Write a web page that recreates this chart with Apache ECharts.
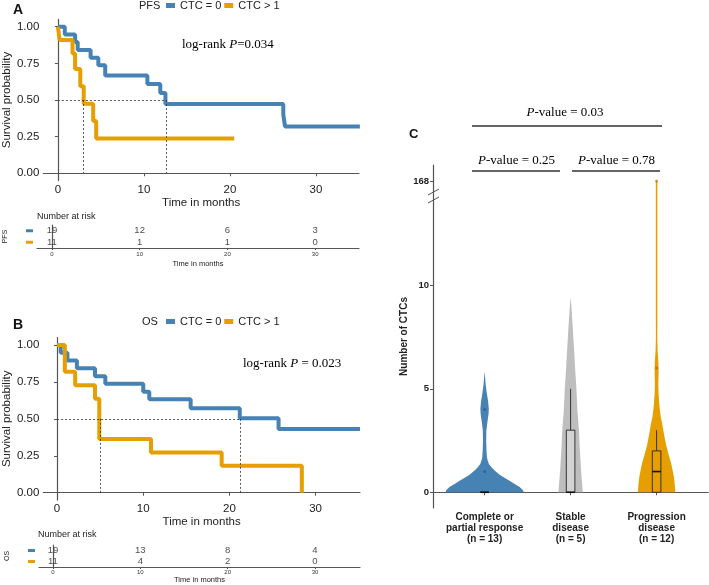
<!DOCTYPE html>
<html><head><meta charset="utf-8">
<script src="https://cdn.jsdelivr.net/npm/echarts@6/dist/echarts.min.js"></script>
<style>html,body{margin:0;padding:0;background:#fff}#c{width:709px;height:585px}</style>
</head><body><div id="c"></div>
<script>
// ================= DATA =================
const groupNames = ['CTC = 0', 'CTC > 1'];
const timeTicks = [0, 10, 20, 30];
const survTicks = [0, 0.25, 0.5, 0.75, 1];

// Panel A: PFS Kaplan-Meier
const pfsTime0 = [0, 0.8, 2.0, 2.3, 3.8, 4.7, 5.5, 10.4, 11.9, 12.5, 26.2, 26.4, 35.1];
const pfsSurv0 = [1, 0.947, 0.895, 0.842, 0.789, 0.737, 0.668, 0.609, 0.548, 0.473, 0.40, 0.32, 0.32];
const pfsTime1 = [0, 0.2, 1.7, 2.0, 2.6, 3.0, 4.1, 4.45, 20.5];
const pfsSurv1 = [1, 0.909, 0.818, 0.712, 0.593, 0.475, 0.356, 0.237, 0.237];
const pfsMedians = [12.6, 3.0];
const pfsRisk0 = [19, 12, 6, 3];
const pfsRisk1 = [11, 1, 1, 0];
const pfsP = '0.034';

// Panel B: OS Kaplan-Meier
const osTime0 = [0, 0.42, 1.2, 2.3, 4.4, 5.6, 10.0, 10.7, 15.5, 21.2, 25.7, 35.15];
const osSurv0 = [1, 0.947, 0.895, 0.842, 0.789, 0.737, 0.684, 0.632, 0.571, 0.504, 0.431, 0.431];
const osTime1 = [0, 0.9, 2.1, 4.4, 4.9, 10.9, 19.1, 28.4];
const osSurv1 = [1, 0.818, 0.727, 0.636, 0.364, 0.273, 0.182, 0];
const osMedians = [21.2, 5.0];
const osRisk0 = [19, 13, 8, 4];
const osRisk1 = [11, 4, 2, 0];
const osP = '0.023';

// Panel C: CTC counts by response
const ctcGroups = ['Complete or\npartial response\n(n = 13)', 'Stable\ndisease\n(n = 5)', 'Progression\ndisease\n(n = 12)'];
const ctcTicks = [0, 5, 10, 168];
// violin profiles: [value, relative density]
const violinCR = [[0,1.0],[0.1,0.985],[0.25,0.9],[0.4,0.77],[0.56,0.64],[0.7,0.51],[0.85,0.385],[1.05,0.256],[1.2,0.18],[1.37,0.11],[1.55,0.077],[1.7,0.06],[2.0,0.049],[2.5,0.041],[3.0,0.046],[3.4,0.072],[3.8,0.103],[4.05,0.108],[4.4,0.09],[4.8,0.056],[5.2,0.028],[5.5,0.015],[5.85,0]];
const violinSD = [[0,0.313],[1,0.27],[2,0.238],[3,0.213],[4,0.174],[5,0.149],[6,0.115],[6.7,0.095],[7.5,0.069],[8.3,0.044],[9.0,0.02],[9.4,0]];
const violinPD = [[0,0.48],[0.4,0.465],[0.72,0.445],[1.06,0.41],[1.37,0.377],[1.7,0.326],[2.0,0.282],[2.33,0.238],[2.66,0.205],[3.0,0.172],[3.3,0.146],[3.6,0.11],[3.95,0.085],[4.27,0.069],[4.75,0.051],[5.23,0.044],[5.7,0.051],[6.0,0.051],[6.35,0.044],[6.85,0.026],[7.5,0.018],[8.1,0.02],[12,0.02],[168,0.02]];
// box stats: [min, q1, median, q3, max]
const boxCR = [0, 0, 0, 0, 0];
const boxSD = [0, 0, 0, 3, 5];
const boxPD = [0, 0, 1, 2, 3];
const outCR = [1, 4];
const outSD = [];
const outPD = [6, 168];
const pValues = ['0.03', '0.25', '0.78'];

// ================= STYLE =================
const BLUE = '#4682B4', ORANGE = '#E69F00', GRAY = '#BEBEBE';
const SANS = "'Liberation Sans', Arial, sans-serif";
const SERIF = "'Liberation Serif', 'Times New Roman', serif";
const AXC = '#555', TXT = '#222';
const VW = 0.4535, BOXW = 0.05;
const BREAK_LOW = 12, BREAK_TOP = 15.04, BREAK_VAL = 168;
function yMap(v) { return v <= BREAK_LOW ? v : BREAK_LOW + (v - BREAK_LOW) * (BREAK_TOP - BREAK_LOW) / (BREAK_VAL - BREAK_LOW); }

const chart = echarts.init(document.getElementById('c'));
const axLine = {show: true, lineStyle: {color: AXC, width: 1.2}};

function kmX(gi, min, max) {
  return {gridIndex: gi, type: 'value', min, max, axisLine: axLine,
    axisTick: {show: true, customValues: timeTicks, length: 3, lineStyle: {color: AXC}},
    axisLabel: {customValues: timeTicks, fontSize: 11.5, color: TXT, fontFamily: SANS, margin: 3},
    splitLine: {show: false}, name: 'Time in months', nameLocation: 'middle', nameGap: 14,
    nameTextStyle: {fontSize: 11.5, color: TXT, fontFamily: SANS}};
}
function kmY(gi) {
  return {gridIndex: gi, type: 'value', min: -0.05, max: 1.05, axisLine: axLine,
    axisTick: {show: true, customValues: survTicks, length: 3, lineStyle: {color: AXC}},
    axisLabel: {customValues: survTicks, formatter: v => v.toFixed(2), fontSize: 11.5, color: TXT, fontFamily: SANS, margin: 4},
    splitLine: {show: false}, name: 'Survival probability', nameLocation: 'middle', nameRotate: 90, nameGap: 22,
    nameTextStyle: {fontSize: 11.5, color: TXT, fontFamily: SANS}};
}
function tabX(gi, min, max, margin, gap) {
  return {gridIndex: gi, type: 'value', min, max, axisLine: axLine,
    axisTick: {show: true, customValues: timeTicks, length: 2, lineStyle: {color: AXC}},
    axisLabel: {customValues: timeTicks, fontSize: 6, color: '#333', fontFamily: SANS, margin},
    splitLine: {show: false}, name: 'Time in months', nameLocation: 'middle', nameGap: gap,
    nameTextStyle: {fontSize: 7.5, color: TXT, fontFamily: SANS}};
}
function tabY(gi, label) {
  return {gridIndex: gi, type: 'category', data: ['CTC > 1', 'CTC = 0'], axisLine: axLine, axisTick: {show: false},
    axisLabel: {interval: 0, margin: 4, formatter: v => v === 'CTC = 0' ? '{b| }' : '{o| }',
      rich: {b: {width: 7, height: 3, backgroundColor: BLUE}, o: {width: 7, height: 3, backgroundColor: ORANGE}}},
    name: label, nameLocation: 'middle', nameRotate: 90, nameGap: 28,
    nameTextStyle: {fontSize: 7, color: TXT, fontFamily: SANS}};
}
function km(name, times, surv, color, gi, medians) {
  const s = {type: 'line', name, xAxisIndex: gi, yAxisIndex: gi, step: 'end', symbol: 'none', showSymbol: false,
    data: times.map((t, i) => [t, surv[i]]), lineStyle: {color, width: 4}, itemStyle: {color}, silent: true, z: 3};
  if (medians) {
    s.markLine = {silent: true, symbol: ['none', 'none'], label: {show: false}, animation: false,
      lineStyle: {color: '#333', width: 0.8, type: [2, 2]},
      data: [[{coord: [0, 0.5]}, {coord: [Math.max(...medians), 0.5]}]].concat(medians.map(m => [{coord: [m, 0.5]}, {coord: [m, 0]}]))};
  }
  return s;
}
function risk(gi, r0, r1) {
  return {type: 'scatter', xAxisIndex: gi, yAxisIndex: gi, symbolSize: 1, itemStyle: {color: 'rgba(0,0,0,0)'}, silent: true,
    data: timeTicks.map((t, i) => [t, 1, r0[i]]).concat(timeTicks.map((t, i) => [t, 0, r1[i]])),
    label: {show: true, position: 'inside', formatter: p => String(p.value[2]), fontSize: 9.5, color: TXT, fontFamily: SANS}};
}

const violins = [violinCR, violinSD, violinPD];
const violinColors = [BLUE, GRAY, ORANGE];
const boxes = [boxCR, boxSD, boxPD];
const boxFills = [BLUE, '#D3D3D3', ORANGE];
const outliers = [outCR, outSD, outPD];
const outColors = ['rgba(40,80,120,0.7)', 'rgba(90,90,90,0.7)', 'rgba(170,110,0,0.8)'];
const ctcTickPos = ctcTicks.map(yMap);

const option = {
  animation: false,
  backgroundColor: '#fff',
  grid: [
    {left: 37, top: 19.4, width: 322, height: 161.2},
    {left: 37, top: 225, width: 322, height: 23},
    {left: 39, top: 337.6, width: 321, height: 162.5},
    {left: 39, top: 545, width: 321, height: 23},
    {left: 433, top: 165, width: 275.2, height: 343}
  ],
  legend: [
    {data: groupNames, left: 166, top: 0, padding: 0, itemGap: 3, itemWidth: 9, itemHeight: 5, icon: 'rect', selectedMode: false,
      textStyle: {fontSize: 11, color: TXT, fontFamily: SANS}},
    {data: groupNames, left: 166, top: 316, padding: 0, itemGap: 3, itemWidth: 9, itemHeight: 5, icon: 'rect', selectedMode: false,
      textStyle: {fontSize: 11, color: TXT, fontFamily: SANS}}
  ],
  xAxis: [
    kmX(0, -1.7, 35), tabX(1, -1.7, 35, 3, 12), kmX(2, -1.6, 35.15), tabX(3, -1.6, 35.15, 2, 9),
    {gridIndex: 4, type: 'value', min: 0.4, max: 3.6, axisLine: axLine,
      axisTick: {show: true, customValues: [1, 2, 3], length: 3, lineStyle: {color: AXC}},
      axisLabel: {customValues: [1, 2, 3], formatter: v => ctcGroups[Math.round(v) - 1], fontSize: 10, lineHeight: 11,
        fontWeight: 'bold', color: TXT, fontFamily: SANS, margin: 4},
      splitLine: {show: false}}
  ],
  yAxis: [
    kmY(0), tabY(1, 'PFS'), kmY(2), tabY(3, 'OS'),
    {gridIndex: 4, type: 'value', min: -0.76, max: 15.81, axisLine: axLine,
      axisTick: {show: true, customValues: ctcTickPos, length: 3, lineStyle: {color: AXC}},
      axisLabel: {customValues: ctcTickPos, formatter: v => {
          let best = 0; ctcTickPos.forEach((p, i) => { if (Math.abs(p - v) < Math.abs(ctcTickPos[best] - v)) best = i; });
          return String(ctcTicks[best]); },
        fontSize: 9.5, fontWeight: 'bold', color: TXT, fontFamily: SANS, margin: 4},
      splitLine: {show: false}, name: 'Number of CTCs', nameLocation: 'middle', nameRotate: 90, nameGap: 15,
      nameTextStyle: {fontSize: 10, fontWeight: 'bold', color: TXT, fontFamily: SANS}}
  ],
  series: [
    km('CTC = 0', pfsTime0, pfsSurv0, BLUE, 0, pfsMedians),
    km('CTC > 1', pfsTime1, pfsSurv1, ORANGE, 0, null),
    risk(1, pfsRisk0, pfsRisk1),
    km('CTC = 0', osTime0, osSurv0, BLUE, 2, osMedians),
    km('CTC > 1', osTime1, osSurv1, ORANGE, 2, null),
    risk(3, osRisk0, osRisk1),
    {type: 'custom', xAxisIndex: 4, yAxisIndex: 4, silent: true, clip: false, z: 2,
      data: [[1], [2], [3]],
      renderItem: (params, api) => {
        const gi = params.dataIndex, x = api.value(0), prof = violins[gi];
        const right = prof.map(([v, d]) => api.coord([x + d * VW, yMap(v)]));
        const left = prof.slice().reverse().map(([v, d]) => api.coord([x - d * VW, yMap(v)]));
        return {type: 'polygon', shape: {points: right.concat(left)}, style: {fill: violinColors[gi], stroke: null}};
      }},
    {type: 'custom', xAxisIndex: 4, yAxisIndex: 4, silent: true, clip: false, z: 3,
      data: [[1], [2], [3]],
      renderItem: (params, api) => {
        const gi = params.dataIndex, x = api.value(0), b = boxes[gi];
        const tl = api.coord([x - BOXW, b[3]]), br = api.coord([x + BOXW, b[1]]);
        const mL = api.coord([x - BOXW, b[2]]), mR = api.coord([x + BOXW, b[2]]);
        const wTop = api.coord([x, b[4]]), wQ3 = api.coord([x, b[3]]);
        const wBot = api.coord([x, b[0]]), wQ1 = api.coord([x, b[1]]);
        const st = {stroke: '#333', lineWidth: 1};
        return {type: 'group', children: [
          {type: 'line', shape: {x1: wTop[0], y1: wTop[1], x2: wQ3[0], y2: wQ3[1]}, style: st},
          {type: 'line', shape: {x1: wBot[0], y1: wBot[1], x2: wQ1[0], y2: wQ1[1]}, style: st},
          {type: 'rect', shape: {x: tl[0], y: tl[1], width: br[0] - tl[0], height: br[1] - tl[1]}, style: {fill: boxFills[gi], stroke: '#333', lineWidth: 1}},
          {type: 'line', shape: {x1: mL[0], y1: mL[1], x2: mR[0], y2: mR[1]}, style: {stroke: '#111', lineWidth: 1.6}}
        ]};
      }},
    {type: 'scatter', xAxisIndex: 4, yAxisIndex: 4, silent: true, symbolSize: 3, z: 4,
      data: outliers.flatMap((arr, gi) => arr.map(v => ({value: [gi + 1, yMap(v)], itemStyle: {color: outColors[gi]}})))}
  ],
  graphic: [
    {type: 'text', x: 13, y: 10, style: {text: 'A', fontSize: 14, fontWeight: 'bold', fontFamily: SANS, fill: '#111', verticalAlign: 'middle'}},
    {type: 'text', x: 13, y: 325, style: {text: 'B', fontSize: 14, fontWeight: 'bold', fontFamily: SANS, fill: '#111', verticalAlign: 'middle'}},
    {type: 'text', x: 409, y: 134, style: {text: 'C', fontSize: 13, fontWeight: 'bold', fontFamily: SANS, fill: '#111', verticalAlign: 'middle'}},
    {type: 'text', x: 139, y: 6, style: {text: 'PFS', fontSize: 11, fontFamily: SANS, fill: TXT, verticalAlign: 'middle'}},
    {type: 'text', x: 142, y: 322, style: {text: 'OS', fontSize: 11, fontFamily: SANS, fill: TXT, verticalAlign: 'middle'}},
    {type: 'text', x: 37, y: 217, style: {text: 'Number at risk', fontSize: 9, fontFamily: SANS, fill: TXT, verticalAlign: 'middle'}},
    {type: 'text', x: 38, y: 535, style: {text: 'Number at risk', fontSize: 9, fontFamily: SANS, fill: TXT, verticalAlign: 'middle'}},
    {type: 'text', x: 182, y: 45, style: {text: '{n|log-rank }{i|P}{n|=' + pfsP + '}', verticalAlign: 'middle',
      rich: {n: {fontSize: 13, fontFamily: SERIF, color: TXT}, i: {fontSize: 13, fontFamily: SERIF, fontStyle: 'italic', color: TXT}}}},
    {type: 'text', x: 243, y: 364, style: {text: '{n|log-rank }{i|P}{n| = ' + osP + '}', verticalAlign: 'middle',
      rich: {n: {fontSize: 13, fontFamily: SERIF, color: TXT}, i: {fontSize: 13, fontFamily: SERIF, fontStyle: 'italic', color: TXT}}}},
    {type: 'text', x: 565, y: 113, style: {text: '{i|P}{n|-value = ' + pValues[0] + '}', align: 'center', verticalAlign: 'middle',
      rich: {n: {fontSize: 13, fontFamily: SERIF, color: TXT}, i: {fontSize: 13, fontFamily: SERIF, fontStyle: 'italic', color: TXT}}}},
    {type: 'text', x: 516.5, y: 161, style: {text: '{i|P}{n|-value = ' + pValues[1] + '}', align: 'center', verticalAlign: 'middle',
      rich: {n: {fontSize: 13, fontFamily: SERIF, color: TXT}, i: {fontSize: 13, fontFamily: SERIF, fontStyle: 'italic', color: TXT}}}},
    {type: 'text', x: 616.5, y: 161, style: {text: '{i|P}{n|-value = ' + pValues[2] + '}', align: 'center', verticalAlign: 'middle',
      rich: {n: {fontSize: 13, fontFamily: SERIF, color: TXT}, i: {fontSize: 13, fontFamily: SERIF, fontStyle: 'italic', color: TXT}}}},
    {type: 'line', shape: {x1: 472, y1: 126, x2: 662, y2: 126}, style: {stroke: '#333', lineWidth: 1.3}},
    {type: 'line', shape: {x1: 472, y1: 171, x2: 560, y2: 171}, style: {stroke: '#333', lineWidth: 1.3}},
    {type: 'line', shape: {x1: 572, y1: 171, x2: 660, y2: 171}, style: {stroke: '#333', lineWidth: 1.3}},
    {type: 'line', shape: {x1: 428, y1: 195, x2: 439, y2: 189}, style: {stroke: AXC, lineWidth: 1}},
    {type: 'line', shape: {x1: 428, y1: 203, x2: 439, y2: 197}, style: {stroke: AXC, lineWidth: 1}}
  ]
};
chart.setOption(option);
</script></body></html>
